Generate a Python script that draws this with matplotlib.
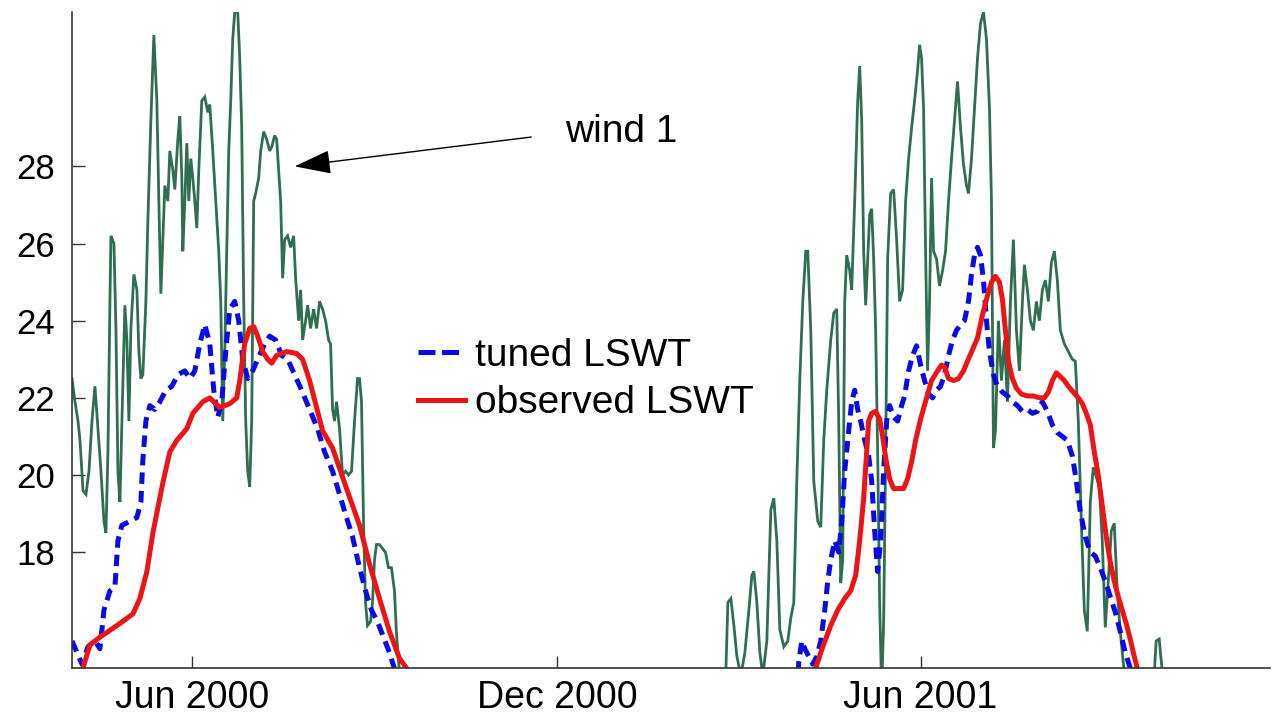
import numpy as np
import matplotlib
matplotlib.use("Agg")
import matplotlib.pyplot as plt
import matplotlib.dates as mdates
from matplotlib.ticker import FixedLocator
from matplotlib.lines import Line2D
from datetime import datetime

# ---- data: day numbers counted from 2000-01-01, temperatures in deg C ----
wind_2000_days = [92, 93.5, 95, 96, 97.5, 99, 100.5, 102, 103.5, 105, 106.5, 108, 109, 110, 111, 111.5,
                  113, 114, 115, 116, 117, 118.5, 119.5, 120.5, 121.5, 123, 124.5, 125.5, 126.5, 127.5,
                  129, 130, 131.5, 133, 134.5, 135.5, 136.5, 137.5, 138.5, 140, 141, 142.5, 143.5, 145,
                  146, 147, 147.5, 148.5, 149.5, 150.5, 151.5, 152.5, 153.5, 154.5, 155.5, 157, 158.5,
                  160, 161, 162.5, 164, 165.5, 166.5, 167.5, 168.5, 169.5, 170.5, 171.5, 172.5, 173.5,
                  175, 176, 177, 178, 179, 180, 181, 182, 183, 184, 185.5, 186.5, 188, 189.5, 191, 192,
                  193.5, 194.5, 195.5, 196.5, 197.5, 198.5, 200, 201.5, 203, 204, 205.5, 206.5, 207.5,
                  209, 210, 211.5, 213, 214.5, 216, 217.5, 219, 220.5, 221.5, 222.5, 223.5, 224.5, 226,
                  227.5, 229, 230.5, 232, 233.5, 235, 236, 237, 238, 239, 240, 241.5, 242.5, 243.5,
                  244.5, 246, 247.5, 249, 250.5, 252, 253.5, 254.5, 256, 257.5]
wind_2000_vals = [22.5, 21.9, 21.4, 20.9, 19.6, 19.5, 20.1, 21.4, 22.3, 21.2, 20.1, 18.8, 18.5, 20.6, 24.5, 26.2,
                  26.0, 23.8, 20.1, 19.3, 21.4, 24.4, 23.5, 21.4, 23.8, 25.2, 24.8, 23.2, 22.5, 22.6,
                  24.5, 26.6, 29.2, 31.4, 29.7, 27.1, 24.7, 26.1, 27.5, 27.1, 28.4, 27.9, 27.4, 28.7,
                  29.3, 27.7, 25.8, 27.1, 28.6, 27.1, 28.2, 27.7, 27.1, 26.4, 27.9, 29.7, 29.8,
                  29.4, 29.6, 28.4, 27.1, 25.8, 24.5, 21.4, 23.2, 25.8, 28.4, 29.7, 31.3, 32.0,
                  32.0, 30.8, 29.0, 24.5, 21.4, 20.1, 19.7, 21.4, 27.1, 27.3, 27.7, 28.4, 28.9, 28.7, 28.4, 28.5,
                  28.8, 28.7, 27.9, 27.1, 25.1, 26.1, 26.2, 25.9, 26.2, 25.1, 24.0, 24.8, 23.5,
                  24.0, 24.4, 23.8, 24.3, 23.8, 24.5, 24.3, 24.0, 23.5, 23.4, 21.7, 21.4, 21.9, 21.2,
                  20.0, 20.1, 20.0, 20.1, 21.4, 22.5, 22.5, 21.9, 18.8, 16.7, 16.1, 16.2, 16.7,
                  17.8, 18.2, 18.2, 18.1, 18.0, 17.6, 17.6, 17.0, 15.9, 14.9, 14.4]

wind_2001_days = [419, 420.5, 422, 423.5, 425, 427, 429, 431, 432.5, 433.5, 435, 436.5, 438, 440, 442, 443.5,
                  445, 446.5, 448.5, 450.5, 452, 453.5, 455, 456.5, 458, 459.5, 460.5, 462, 463.5, 465.5,
                  467, 468.5, 470, 472, 473.5, 475, 476, 477, 478, 479, 480, 481.5, 482.5, 484, 485.5,
                  486.5, 487.5, 488.5, 489.5, 490.5, 491.5, 492.5, 493.5, 494.5, 495.5, 496.5, 497.5,
                  498.5, 499.5, 500.5, 502, 503.5, 505, 506.5, 508, 509.5, 511, 512.5, 514, 515.5, 516.5,
                  517.5, 518.5, 519.5, 520.5, 521.5, 522.5, 523.5, 525, 526.5, 528, 529.5, 531, 532.5,
                  534, 535.5, 537, 538.5, 540, 541, 542.5, 544, 545.5, 547, 548.5, 550, 551.5, 552.5,
                  553.5, 554.5, 556, 557.5, 559, 560.5, 562, 563.5, 565, 566.5, 568, 569, 570.5, 572,
                  573.5, 575, 576.5, 578, 579.5, 581, 582.5, 584, 585.5, 587, 589, 591, 593, 594.5, 596,
                  597.5, 599, 600.5, 602, 603.5, 605, 606.5, 608, 609.5, 611, 612.5, 614, 615.5, 617,
                  618.5, 620, 627, 633.5, 635, 636.5, 638, 639]
wind_2001_vals = [14.1, 16.7, 16.8, 16.1, 15.3, 14.8, 15.4, 16.5, 17.4, 17.5, 16.7, 15.4, 14.8, 15.7, 19.1, 19.4,
                  18.3, 16.0, 15.55, 15.7, 16.3, 16.7, 19.85, 22.45, 24.5, 25.8, 25.8, 23.75, 19.85, 18.8,
                  18.65, 20.9, 22.2, 23.5, 24.2, 24.3, 21.4, 17.2, 17.8, 24.5, 25.7, 25.3, 24.8, 27.1, 29.7,
                  30.6, 29.2, 25.8, 24.4, 25.6, 26.75, 26.9, 25.6, 23.75, 20.6, 16.7, 14.4,
                  16.2, 20.6, 25.6, 27.3, 27.4, 26.1, 24.5, 24.8, 27.1, 28.2, 29.0, 29.7, 30.5, 31.15,
                  30.8, 29.5, 25.8, 22.7, 24.5, 27.7, 25.8, 25.6, 24.9, 25.3, 25.8, 27.1, 28.2,
                  29.2, 30.2, 29.0, 28.05, 27.5, 27.3, 28.2, 29.5, 30.8, 31.7, 32.0, 31.3, 29.5, 27.1,
                  20.7, 21.15, 24.0, 22.45, 23.5, 21.9, 24.5, 26.1, 23.75, 22.7, 24.5, 25.45, 24.8, 24.0,
                  23.75, 24.5, 24.0, 24.8, 25.05, 24.5, 25.5, 25.8, 25.05, 23.75, 23.4, 23.2, 23.0, 22.95, 21.4,
                  18.8, 16.5, 15.95, 19.3, 20.2, 19.95, 19.7, 18.3, 16.05, 17.25, 18.55, 18.75, 17.0, 15.95,
                  15.15, 14.4, 14.0, 14.4, 15.7, 15.75, 14.95, 14.4]

tuned_2000_days = [92, 94.5, 97, 100, 103.5, 106, 108, 111, 113.5, 115, 117, 121, 124.5, 126.5, 127.5, 129,
                   131, 133.5, 136, 139, 142, 145, 148.5, 151, 153.5, 156, 158.5, 161, 163, 165, 167,
                   169, 171, 173.5, 175.5, 177.5, 180, 182.5, 185, 188.5, 191, 194, 197, 200, 203.5,
                   207, 211, 215, 218.5, 222.5, 226, 229.5, 232.5, 236, 239, 242, 245, 248, 251, 254, 256]
tuned_2000_vals = [15.7, 15.4, 15.1, 15.55, 15.7, 15.5, 16.5, 17.0, 17.1, 18.3, 18.7, 18.8, 18.9, 19.3, 20.4, 21.4,
                   21.8, 21.7, 21.9, 22.2, 22.3, 22.6, 22.7, 22.5, 22.7, 23.4, 23.9, 23.4, 22.2, 21.5, 21.9,
                   23.2, 24.3, 24.5, 24.0, 23.0, 22.5, 22.7, 23.0, 23.4, 23.6, 23.5, 23.1, 23.0, 22.6,
                   22.2, 21.7, 21.2, 20.6, 20.1, 19.5, 18.9, 18.4, 17.6, 17.0, 16.5, 16.2, 15.8, 15.4, 14.9, 14.6]

tuned_2001_days = [455, 456, 457.5, 459, 461, 463, 465, 467, 469, 470.5, 472, 474, 476, 477.5, 479, 481,
                   482.5, 484, 485.5, 487, 489, 491, 492.5, 494, 495.5, 497, 498.5, 500, 501.5, 503.5,
                   505.5, 507.5, 509, 511, 513, 515, 517, 519, 521, 523, 525, 527, 529, 531, 533, 535,
                   537, 539, 541, 542.5, 544, 545.5, 547, 548.5, 550, 551.5, 553.5, 555.5, 558, 560.5,
                   563, 565.5, 568, 570.5, 573, 575.5, 578, 580.5, 583, 585.5, 588, 590.5, 593, 595,
                   597, 599.5, 602, 604.5, 607, 609.5, 612, 614.5, 617, 619.5, 622, 624]
tuned_2001_vals = [14.4, 15.15, 15.7, 15.5, 15.3, 15.1, 15.3, 15.7, 16.5, 17.25, 17.8, 18.3, 18.0, 18.8, 20.1, 21.15,
                   21.9, 22.2, 21.7, 21.4, 20.9, 20.5, 19.85, 18.55, 17.5, 18.3, 20.1, 21.4, 21.8, 21.5,
                   21.4, 21.8, 22.05, 22.7, 23.1, 23.35, 22.85, 22.45, 22.1, 22.0, 22.2, 22.3, 22.6, 23.1, 23.5, 23.75,
                   23.9, 24.0, 24.5, 25.2, 25.7, 25.9, 25.7, 25.05, 24.0, 23.2, 22.6, 22.3, 22.15, 22.05,
                   21.9, 21.8, 21.65, 21.7, 21.6, 21.65, 21.9, 21.65, 21.3, 21.1, 21.0, 20.9, 20.5, 19.85,
                   19.05, 18.4, 18.0, 17.9, 17.6, 17.25, 16.85, 16.45, 15.95, 15.4, 15.0, 14.65]

obs_2000_days = [96, 97.5, 101, 106, 114.5, 122.5, 126, 129.5, 132.5, 137.5, 141, 144.5, 149.5, 152.5,
                 157.5, 161, 166, 171, 174.5, 176, 178.5, 181, 183, 185, 187.5, 190, 192, 194.5, 199.5,
                 204.5, 207.5, 211, 214.5, 217.5, 222.5, 229.5, 236, 241, 246, 251, 256, 259.5, 262]
obs_2000_vals = [14.4, 15.0, 15.6, 15.8, 16.1, 16.4, 16.8, 17.5, 18.5, 19.8, 20.6, 20.9, 21.2, 21.6,
                 21.9, 22.0, 21.75, 21.85, 22.0, 22.45, 23.4, 23.8, 23.85, 23.6, 23.2, 23.0, 22.9, 23.1, 23.2,
                 23.15, 23.0, 22.45, 21.75, 21.15, 20.7, 19.65, 18.7, 17.7, 16.8, 15.95, 15.25, 15.0, 14.4]

obs_2001_days = [463, 464.5, 468, 472, 475.5, 479, 482, 484.5, 486.5, 488.5, 490, 491, 492.5, 494.5, 496.5,
                 498, 499.5, 501.5, 503.5, 506, 508.5, 510.5, 512.5, 514.5, 517, 520, 522.5, 525.5, 527.5,
                 529, 531, 533.5, 536, 538.5, 540.5, 543, 545.5, 548, 550.5, 552.5, 554.5, 556.5, 558,
                 559.5, 561, 563, 565, 567.5, 570.5, 573.5, 576.5, 579, 581, 583, 585, 587, 589, 591,
                 593.5, 596, 598, 600, 602, 604, 606, 608, 610, 612, 614, 616, 618, 620, 622, 624, 625.5, 627]
obs_2001_vals = [14.4, 15.0, 15.55, 16.1, 16.5, 16.8, 17.0, 17.4, 18.3, 19.4, 20.6, 21.4, 21.6, 21.65, 21.45,
                 21.0, 20.45, 19.9, 19.65, 19.65, 19.65, 19.9, 20.35, 20.9, 21.45, 22.0, 22.45, 22.7, 22.85,
                 22.8, 22.5, 22.45, 22.5, 22.7, 22.95, 23.25, 23.55, 24.15, 24.65, 25.0, 25.15, 25.0, 24.55,
                 23.75, 22.95, 22.5, 22.25, 22.1, 22.05, 22.05, 22.0, 22.0, 22.15, 22.45, 22.65, 22.55, 22.45, 22.3,
                 22.15, 22.0, 21.85, 21.6, 21.3, 20.6, 20.0, 19.2, 18.4, 17.75, 17.25, 16.85, 16.5, 16.15, 15.75,
                 15.3, 15.0, 14.4]

y_ticks = [18, 20, 22, 24, 26, 28]
x_tick_dates = [datetime(2000, 6, 1), datetime(2000, 12, 1), datetime(2001, 6, 1)]
legend_labels = ["tuned LSWT", "observed LSWT"]
annotation_text = "wind 1"

# ---- helpers ----
base = mdates.date2num(datetime(2000, 1, 1))


def joined(d1, v1, d2, v2):
    x = np.concatenate([np.asarray(d1, float), [np.nan], np.asarray(d2, float)]) + base
    y = np.concatenate([np.asarray(v1, float), [np.nan], np.asarray(v2, float)])
    return x, y


plt.rcParams['font.family'] = ['Liberation Sans', 'DejaVu Sans']

fig = plt.figure(figsize=(12.79, 7.15), dpi=100)
ax = fig.add_axes([72 / 1279, 47 / 715, (1270 - 72) / 1279, (668 - 12) / 715])

green = '#2f6e50'
blue = '#0a0ae6'
red = '#ec1414'

xg, yg = joined(wind_2000_days, wind_2000_vals, wind_2001_days, wind_2001_vals)
ax.plot(xg, yg, color=green, lw=2.0, solid_joinstyle='miter')

xb, yb = joined(tuned_2000_days, tuned_2000_vals, tuned_2001_days, tuned_2001_vals)
ax.plot(xb, yb, color=blue, lw=3.6, dashes=(2.3, 1.4))

xr, yr = joined(obs_2000_days, obs_2000_vals, obs_2001_days, obs_2001_vals)
ax.plot(xr, yr, color=red, lw=3.6)

ax.set_xlim(base + 92, base + 692)
ax.set_ylim(15, 32)

ax.yaxis.set_major_locator(FixedLocator(y_ticks))
ax.xaxis.set_major_locator(FixedLocator(mdates.date2num(x_tick_dates)))
ax.xaxis.set_major_formatter(mdates.DateFormatter('%b %Y'))

for s in ['top', 'right']:
    ax.spines[s].set_visible(False)
for s in ['left', 'bottom']:
    ax.spines[s].set_color('#333333')
    ax.spines[s].set_linewidth(1.2)

ax.tick_params(axis='both', direction='in', length=9, width=1, colors='#333333',
               labelcolor='black')
ax.tick_params(axis='y', pad=12, labelsize=25)
ax.tick_params(axis='x', pad=9, labelsize=27)

handles = [Line2D([], [], color=blue, lw=3.6, dashes=(3.4, 1.3)),
           Line2D([], [], color=red, lw=3.6)]
leg = ax.legend(handles, legend_labels, loc='center left', bbox_to_anchor=(0.289, 0.44),
                frameon=False, fontsize=28,
                handlelength=1.2, handletextpad=0.25, labelspacing=0.3, borderpad=0, borderaxespad=0)

# annotation arrow + text
ax.annotate('', xy=(base + 203.5, 28.0), xytext=(base + 322, 28.76),
            arrowprops=dict(arrowstyle='-|>,head_length=2.3,head_width=0.75', color='black', lw=1.0,
                            shrinkA=0, shrinkB=0, mutation_scale=10))
ax.text(base + 339, 28.9, annotation_text, fontsize=28, ha='left', va='center')

fig.savefig('out.png', dpi=100)
